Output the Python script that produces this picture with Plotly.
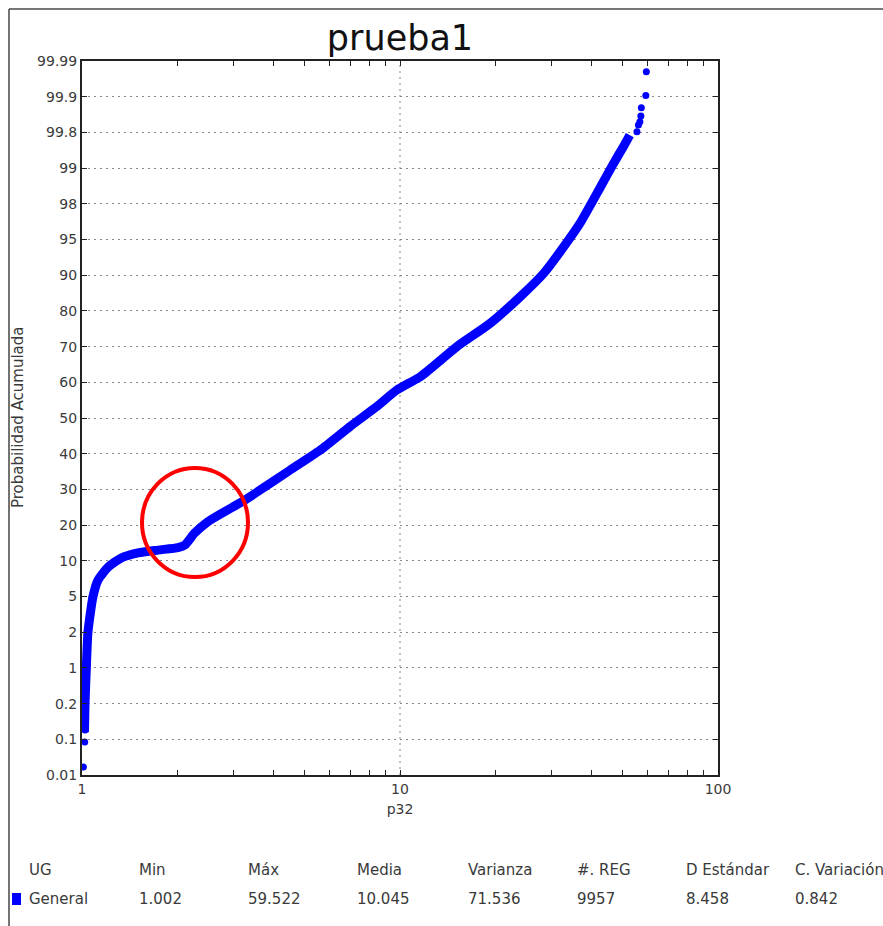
import numpy as np
import plotly.graph_objects as go

# ---------------- data ----------------
Y_TICK_LABELS = ["0.01", "0.1", "0.2", "1", "2", "5", "10", "20", "30", "40", "50",
                 "60", "70", "80", "90", "95", "98", "99", "99.8", "99.9", "99.99"]
Y_TICK_VALUES = [float(s) for s in Y_TICK_LABELS]

X_TICK_VALUES = [1, 2, 3, 4, 5, 6, 7, 8, 9, 10, 20, 30, 40, 50, 60, 70, 80, 90, 100]
X_TICK_TEXT = ["1", "", "", "", "", "", "", "", "", "10", "", "", "", "", "", "", "", "", "100"]

# dense part of the cumulative curve (p32 value, cumulative probability %)
curve_x = [1.018, 1.022, 1.032, 1.044, 1.083, 1.123, 1.207, 1.329, 1.50, 1.734, 2.003, 2.104,
           2.262, 2.49, 2.81, 3.14, 3.63, 4.51, 5.61, 6.96, 8.45, 9.76, 11.6, 15.1,
           19.2, 23.9, 28.3, 33.3, 36.8, 42.7, 46.9, 50.4, 52.8]
curve_p = [0.12, 0.2, 1.0, 2.0, 5.0, 7.3, 9.1, 10.8, 12.2, 13.0, 13.7, 14.4,
           17.8, 21.0, 23.8, 26.2, 29.8, 35.4, 41.0, 47.6, 53.2, 57.8, 61.6, 70.0,
           76.5, 84.0, 90.25, 94.45, 96.35, 98.47, 99.10, 99.48, 99.74]

# sparse tail points
tail_x = [1.010, 1.020, 1.022, 1.026, 1.023,
          55.6, 56.2, 56.8, 57.2, 57.4, 59.3, 59.52]
tail_p = [0.03, 0.093, 0.126, 0.154, 0.174,
          99.802, 99.821, 99.83, 99.846, 99.869, 99.903, 99.963]

TABLE_HEADERS = ["UG", "Min", "Máx", "Media", "Varianza", "#. REG", "D Estándar", "C. Variación"]
TABLE_VALUES = ["General", "1.002", "59.522", "10.045", "71.536", "9957", "8.458", "0.842"]
TABLE_COLS_PX = [27, 137, 246, 355, 466, 575, 684, 793]

# ---------------- helpers ----------------
W, H = 883, 926
PL, PR, PT, PB = 82, 718, 61, 775  # plot area in pixels


def prob_pos(p):
    return np.interp(p, Y_TICK_VALUES, np.arange(len(Y_TICK_VALUES)))


def px_x(px):
    return (px - PL) / (PR - PL)


def px_y(py):
    return (PB - py) / (PB - PT)


BLUE = "#0000FF"
FONT = "DejaVu Sans"
TXT = "#3a3a3a"

fig = go.Figure()
fig.add_trace(go.Scatter(x=curve_x, y=prob_pos(curve_p), mode="lines",
                         line=dict(color=BLUE, width=9, shape="spline", smoothing=0.6),
                         hoverinfo="skip", showlegend=False))
fig.add_trace(go.Scatter(x=tail_x, y=prob_pos(tail_p), mode="markers",
                         marker=dict(color=BLUE, size=7), hoverinfo="skip",
                         showlegend=False))

shapes = []
# vertical dotted grid line at x = 10
shapes.append(dict(type="line", xref="paper", yref="paper", x0=0.5, x1=0.5, y0=0, y1=1,
                   line=dict(color="#888888", width=1, dash="2px,4px"), layer="below"))
# red circle highlight
shapes.append(dict(type="circle", xref="paper", yref="paper",
                   x0=px_x(142), x1=px_x(248), y0=px_y(577), y1=px_y(468),
                   line=dict(color="#FF0000", width=4)))
# page borders
shapes.append(dict(type="line", xref="paper", yref="paper",
                   x0=px_x(9), x1=px_x(883), y0=px_y(9), y1=px_y(9),
                   line=dict(color="#777777", width=2)))
shapes.append(dict(type="line", xref="paper", yref="paper",
                   x0=px_x(9), x1=px_x(9), y0=px_y(9), y1=px_y(926),
                   line=dict(color="#444444", width=1.5)))
# legend square
shapes.append(dict(type="rect", xref="paper", yref="paper",
                   x0=px_x(12), x1=px_x(21), y0=px_y(905), y1=px_y(893),
                   line=dict(width=0), fillcolor=BLUE))

annotations = []
annotations.append(dict(text="Probabilidad Acumulada", xref="paper", yref="paper",
                        x=px_x(18), y=px_y(418), textangle=-90, showarrow=False,
                        xanchor="center", yanchor="middle",
                        font=dict(family=FONT, size=15, color=TXT)))
for txt, cx in zip(TABLE_HEADERS, TABLE_COLS_PX):
    annotations.append(dict(text=txt, xref="paper", yref="paper", x=px_x(cx), y=px_y(870),
                            showarrow=False, xanchor="left", yanchor="middle",
                            font=dict(family=FONT, size=15, color=TXT)))
for txt, cx in zip(TABLE_VALUES, TABLE_COLS_PX):
    annotations.append(dict(text=txt, xref="paper", yref="paper", x=px_x(cx), y=px_y(899),
                            showarrow=False, xanchor="left", yanchor="middle",
                            font=dict(family=FONT, size=15, color=TXT)))

fig.update_layout(
    width=W, height=H,
    margin=dict(l=PL, r=W - PR, t=PT, b=H - PB, pad=0),
    paper_bgcolor="white", plot_bgcolor="white",
    title=dict(text="prueba1", x=400 / W, xanchor="center",
               y=1 - 38 / H, yanchor="middle", yref="container",
               font=dict(family=FONT, size=35, color="#111111")),
    xaxis=dict(type="log", range=[0, 2], tickvals=X_TICK_VALUES, ticktext=X_TICK_TEXT,
               ticks="inside", ticklen=5, tickcolor="#222222", mirror="allticks",
               showline=True, linecolor="#222222", linewidth=2, showgrid=False,
               zeroline=False, automargin=False,
               tickfont=dict(family=FONT, size=14, color=TXT),
               title=dict(text="p32", standoff=8,
                          font=dict(family=FONT, size=14, color=TXT))),
    yaxis=dict(range=[0, len(Y_TICK_VALUES) - 1], tickvals=list(range(len(Y_TICK_LABELS))),
               ticktext=Y_TICK_LABELS, ticks="inside", ticklen=5, tickcolor="#222222",
               mirror="allticks", showline=True, linecolor="#222222", linewidth=2,
               showgrid=True, gridcolor="#888888", gridwidth=1, griddash="2px,4px",
               zeroline=False, automargin=False,
               tickfont=dict(family=FONT, size=14, color=TXT)),
    shapes=shapes,
    annotations=annotations,
)

fig.write_html("out.html")
